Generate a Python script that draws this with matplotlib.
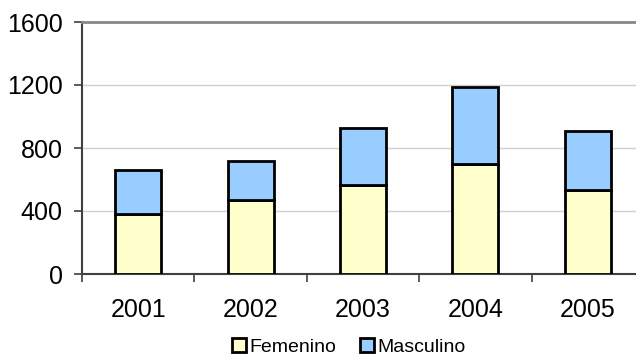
import matplotlib
matplotlib.use("Agg")
import matplotlib.pyplot as plt
import numpy as np

# Stacked counts by year and sex
years = ["2001", "2002", "2003", "2004", "2005"]
femenino = [380, 470, 565, 700, 535]
masculino = [280, 250, 365, 490, 370]

plt.rcParams["font.family"] = ["Liberation Sans", "DejaVu Sans"]

fig = plt.figure(figsize=(6.36, 3.56), dpi=100)
# plot area runs slightly past the right edge of the canvas
ax = fig.add_axes([82 / 636, 1 - 274 / 356, 562 / 636, 252 / 356])

x = np.arange(len(years))
bw = 0.41
ax.bar(x, femenino, bw, color="#FFFFCC", edgecolor="black", linewidth=2,
       label="Femenino", zorder=3)
ax.bar(x, masculino, bw, bottom=femenino, color="#99CCFF", edgecolor="black",
       linewidth=2, label="Masculino", zorder=3)

ax.set_xlim(-0.5, len(years) - 0.5)
ax.set_ylim(0, 1600)
ax.set_yticks([0, 400, 800, 1200, 1600])
ax.set_xticks(x)
ax.set_xticklabels(years)
ax.set_xticks(np.arange(len(years) + 1) - 0.5, minor=True)

ax.tick_params(axis="x", which="major", length=0, pad=17, labelsize=18)
ax.tick_params(axis="x", which="minor", length=6, width=1.2, color="#404040", direction="out")
ax.tick_params(axis="y", length=6, width=1.2, color="#404040", direction="out", pad=8, labelsize=18)

for y in [400, 800, 1200]:
    ax.axhline(y, color="#d0d0d0", linewidth=1, zorder=1)

ax.spines["top"].set_color("#888888")
ax.spines["top"].set_linewidth(2)
ax.spines["right"].set_visible(False)
ax.spines["left"].set_color("#404040")
ax.spines["left"].set_linewidth(1.5)
ax.spines["bottom"].set_color("#404040")
ax.spines["bottom"].set_linewidth(1.5)

leg = fig.legend(loc="center", bbox_to_anchor=(349 / 636, 1 - 347 / 356), ncol=2,
                 frameon=False, fontsize=14, handlelength=0.72, handleheight=0.72,
                 handletextpad=0.2, columnspacing=1.2, borderpad=0)
for h in leg.legend_handles:
    h.set_linewidth(2)

fig.savefig("out.png", dpi=100)
